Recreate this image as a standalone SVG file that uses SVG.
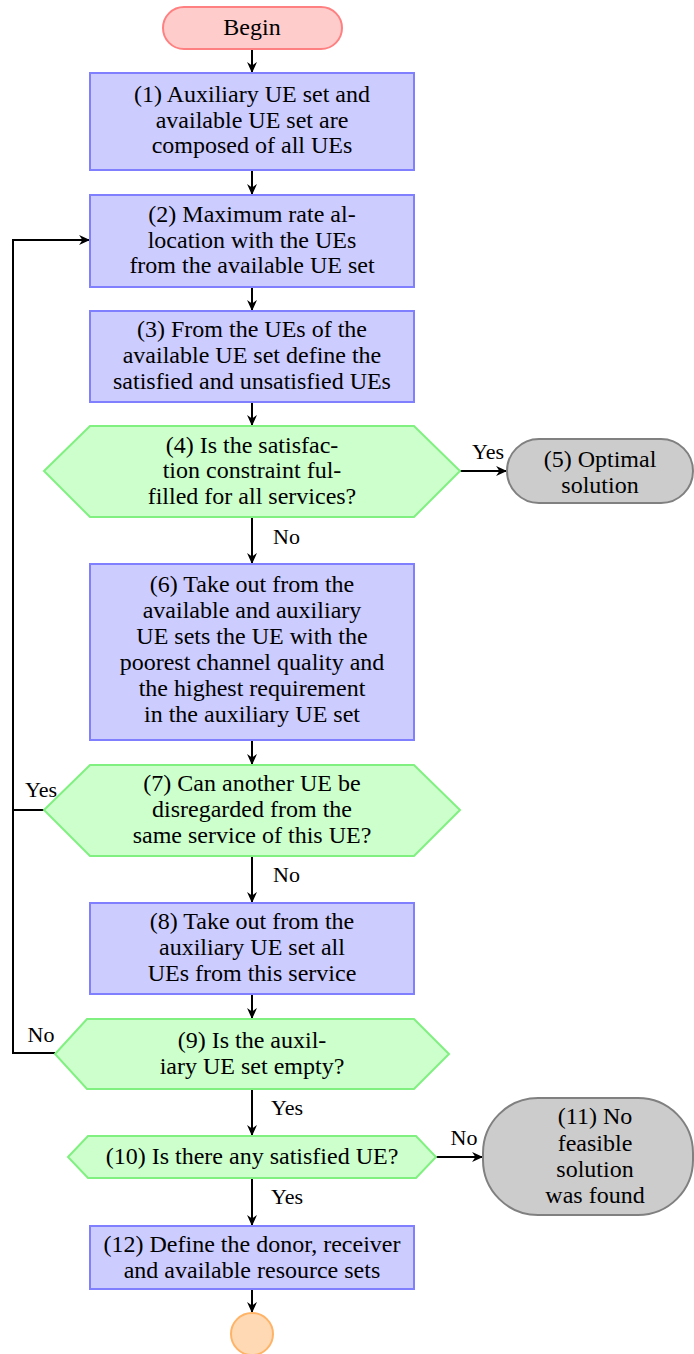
<svg xmlns="http://www.w3.org/2000/svg" width="694" height="1354" viewBox="0 0 694 1354" font-family="Liberation Serif, Times New Roman, Times, serif">
  <style>
    text { font-family: 'Liberation Serif', 'Times New Roman', Times, serif; font-size: 24px; fill: #000; }
    text.lbl { font-size: 22px; }
    .c { text-anchor: middle; }
    .proc { fill: #ccccff; stroke: #8080ff; stroke-width: 2; }
    .dec { fill: #ccffcc; stroke: #80f080; stroke-width: 2; }
    .start { fill: #ffcccc; stroke: #ff8080; stroke-width: 2; }
    .term { fill: #cccccc; stroke: #808080; stroke-width: 2; }
    .end { fill: #ffd9b3; stroke: #ffb366; stroke-width: 2; }
    .edge { fill: none; stroke: #000; stroke-width: 2; }
  </style>
  <defs>
    <marker id="arr" viewBox="0 0 10 10" refX="9" refY="5" markerWidth="11" markerHeight="11" markerUnits="userSpaceOnUse" orient="auto">
      <path d="M0,0.5 L10,5 L0,9.5 L3,5 Z" fill="#000"/>
    </marker>
  </defs>
  <rect width="694" height="1354" fill="#fff"/>

  <g id="connectors">
    <path class="edge" d="M252,49 V72" marker-end="url(#arr)"/>
    <path class="edge" d="M252,170 V194" marker-end="url(#arr)"/>
    <path class="edge" d="M252,287 V310" marker-end="url(#arr)"/>
    <path class="edge" d="M252,402 V425" marker-end="url(#arr)"/>
    <path class="edge" d="M460,471 H506" marker-end="url(#arr)"/>
    <path class="edge" d="M252,517 V563" marker-end="url(#arr)"/>
    <path class="edge" d="M252,740 V764" marker-end="url(#arr)"/>
    <path class="edge" d="M252,856 V902" marker-end="url(#arr)"/>
    <path class="edge" d="M44,810 H13 V240 H89" marker-end="url(#arr)"/>
    <path class="edge" d="M252,994 V1018" marker-end="url(#arr)"/>
    <path class="edge" d="M55,1053 H13 V800"/>
    <path class="edge" d="M252,1089 V1135" marker-end="url(#arr)"/>
    <path class="edge" d="M436,1157 H482" marker-end="url(#arr)"/>
    <path class="edge" d="M252,1178 V1225" marker-end="url(#arr)"/>
    <path class="edge" d="M252,1289 V1312" marker-end="url(#arr)"/>
    <text x="488" y="459" class="c lbl">Yes</text>
    <text x="273" y="544" class="lbl">No</text>
    <text x="41" y="797" class="c lbl">Yes</text>
    <text x="273" y="882" class="lbl">No</text>
    <text x="41" y="1042" class="c lbl">No</text>
    <text x="271" y="1115" class="lbl">Yes</text>
    <text x="464" y="1145" class="c lbl">No</text>
    <text x="271" y="1204" class="lbl">Yes</text>
  </g>

  <g id="begin">
    <rect class="start" x="163" y="7" width="179" height="42" rx="21"/>
    <text x="252" y="35" class="c">Begin</text>
  </g>

  <g id="step1">
    <rect class="proc" x="90" y="73" width="324" height="97"/>
    <text x="252" y="102" class="c">(1) Auxiliary UE set and</text>
    <text x="252" y="128" class="c">available UE set are</text>
    <text x="252" y="153" class="c">composed of all UEs</text>
  </g>

  <g id="step2">
    <rect class="proc" x="90" y="195" width="324" height="92"/>
    <text x="252" y="222" class="c">(2) Maximum rate al-</text>
    <text x="252" y="248" class="c">location with the UEs</text>
    <text x="252" y="273" class="c">from the available UE set</text>
  </g>

  <g id="step3">
    <rect class="proc" x="90" y="311" width="324" height="91"/>
    <text x="252" y="337" class="c">(3) From the UEs of the</text>
    <text x="252" y="363" class="c">available UE set define the</text>
    <text x="252" y="389" class="c">satisfied and unsatisfied UEs</text>
  </g>

  <g id="step4">
    <polygon class="dec" points="44,471 90,426 414,426 460,471 414,517 90,517"/>
    <text x="252" y="453" class="c">(4) Is the satisfac-</text>
    <text x="252" y="478" class="c">tion constraint ful-</text>
    <text x="252" y="504" class="c">filled for all services?</text>
  </g>

  <g id="step5">
    <rect class="term" x="507" y="439" width="186" height="64" rx="32"/>
    <text x="600" y="467" class="c">(5) Optimal</text>
    <text x="600" y="493" class="c">solution</text>
  </g>

  <g id="step6">
    <rect class="proc" x="90" y="564" width="324" height="176"/>
    <text x="252" y="592" class="c">(6) Take out from the</text>
    <text x="252" y="618" class="c">available and auxiliary</text>
    <text x="252" y="644" class="c">UE sets the UE with the</text>
    <text x="252" y="670" class="c">poorest channel quality and</text>
    <text x="252" y="696" class="c">the highest requirement</text>
    <text x="252" y="722" class="c">in the auxiliary UE set</text>
  </g>

  <g id="step7">
    <polygon class="dec" points="44,810 90,765 414,765 460,810 414,856 90,856"/>
    <text x="252" y="791" class="c">(7) Can another UE be</text>
    <text x="252" y="817" class="c">disregarded from the</text>
    <text x="252" y="843" class="c">same service of this UE?</text>
  </g>

  <g id="step8">
    <rect class="proc" x="90" y="903" width="324" height="91"/>
    <text x="252" y="929" class="c">(8) Take out from the</text>
    <text x="252" y="955" class="c">auxiliary UE set all</text>
    <text x="252" y="981" class="c">UEs from this service</text>
  </g>

  <g id="step9">
    <polygon class="dec" points="55,1054 87,1019 414,1019 449,1054 414,1089 87,1089"/>
    <text x="252" y="1048" class="c">(9) Is the auxil-</text>
    <text x="252" y="1074" class="c">iary UE set empty?</text>
  </g>

  <g id="step10">
    <polygon class="dec" points="68,1157 88,1136 416,1136 436,1157 416,1178 88,1178"/>
    <text x="252" y="1164" class="c">(10) Is there any satisfied UE?</text>
  </g>

  <g id="step11">
    <rect class="term" x="483" y="1098" width="210" height="117" rx="55"/>
    <text x="595" y="1124" class="c">(11) No</text>
    <text x="595" y="1151" class="c">feasible</text>
    <text x="595" y="1177" class="c">solution</text>
    <text x="595" y="1203" class="c">was found</text>
  </g>

  <g id="step12">
    <rect class="proc" x="90" y="1226" width="324" height="63"/>
    <text x="252" y="1252" class="c">(12) Define the donor, receiver</text>
    <text x="252" y="1278" class="c">and available resource sets</text>
  </g>

  <g id="end">
    <circle class="end" cx="252" cy="1334" r="21"/>
  </g>
</svg>
